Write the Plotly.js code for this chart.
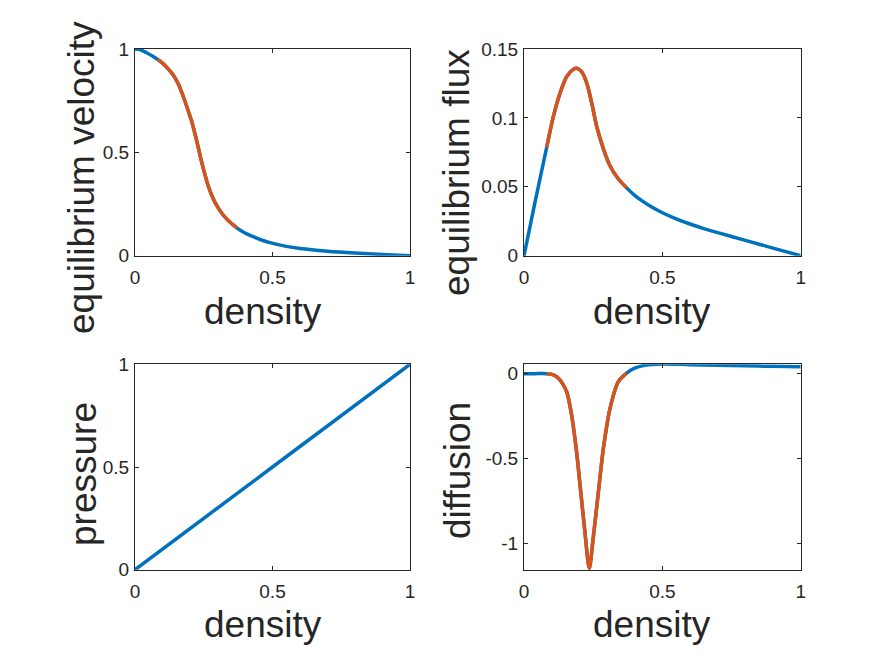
<!DOCTYPE html>
<html>
<head>
<meta charset="utf-8">
<script src="https://cdn.plot.ly/plotly-3.0.1.min.js"></script>
<style>
html, body { margin: 0; padding: 0; background: #ffffff; }
#chart { width: 884px; height: 663px; }
</style>
</head>
<body>
<div id="chart"></div>
<script>
// ---------------- data ----------------
const densityVelocity = [0, 0.02, 0.042, 0.065, 0.082, 0.10, 0.12, 0.139, 0.158, 0.176, 0.19, 0.206, 0.224, 0.242, 0.267, 0.287, 0.303, 0.32, 0.339, 0.37, 0.40, 0.43, 0.46, 0.491, 0.55, 0.6, 0.7, 0.8, 0.9, 1.0];
const velocity        = [1, 0.996, 0.982, 0.965, 0.95, 0.932, 0.905, 0.874, 0.83, 0.769, 0.715, 0.65, 0.558, 0.455, 0.335, 0.268, 0.230, 0.198, 0.170, 0.135, 0.11, 0.092, 0.076, 0.063, 0.045, 0.035, 0.022, 0.013, 0.006, 0];

const densityFlux = [0, 0.041, 0.082, 0.106, 0.13, 0.154, 0.178, 0.19, 0.208, 0.227, 0.245, 0.263, 0.287, 0.31, 0.34, 0.37, 0.40, 0.431, 0.46, 0.5, 0.55, 0.6, 0.65, 0.7, 0.8, 0.9, 1.0];
const flux        = [0, 0.040, 0.0786, 0.1009, 0.1178, 0.1299, 0.1352, 0.136, 0.1335, 0.1251, 0.1106, 0.0936, 0.0775, 0.0655, 0.0560, 0.0494, 0.0438, 0.0392, 0.0355, 0.0312, 0.0268, 0.0230, 0.0197, 0.0167, 0.0111, 0.0055, 0];

const densityPressure = [0, 0.5, 1];
const pressure        = [0, 0.5, 1];

const densityDiffusion = [0, 0.04, 0.082, 0.10, 0.12, 0.14, 0.155, 0.172, 0.19, 0.205, 0.22, 0.236, 0.25, 0.269, 0.287, 0.311, 0.341, 0.37, 0.40, 0.44, 0.5, 0.6, 0.7, 0.8, 0.9, 1.0];
const diffusion        = [0, 0, 0, -0.004, -0.02, -0.06, -0.11, -0.243, -0.459, -0.694, -0.929, -1.145, -0.968, -0.694, -0.439, -0.204, -0.047, 0.002, 0.032, 0.05, 0.057, 0.053, 0.049, 0.046, 0.043, 0.041];

// highlighted density interval (drawn in orange)
const highlightRange = [0.082, 0.37];

const xTickVals = [0, 0.5, 1];
const xTickText = ['0', '0.5', '1'];
const yTickVals1 = [0, 0.5, 1];
const yTickText1 = ['0', '0.5', '1'];
const yTickVals2 = [0, 0.05, 0.1, 0.15];
const yTickText2 = ['0', '0.05', '0.1', '0.15'];
const yTickVals3 = [0, 0.5, 1];
const yTickText3 = ['0', '0.5', '1'];
const yTickVals4 = [-1, -0.5, 0];
const yTickText4 = ['-1', '-0.5', '0'];

const xTitle = 'density';
const yTitles = ['equilibrium velocity', 'equilibrium flux', 'pressure', 'diffusion'];

// ---------------- styling / layout ----------------
const W = 884, H = 663;
const BLUE = '#0072BD', ORANGE = '#D95319', INK = '#262626';
const FONT = 'Liberation Sans, Arial, Helvetica, sans-serif';
const px = v => v / W;
const py = v => 1 - v / H;

function highlight(xs, ys) {
  const hx = [], hy = [];
  xs.forEach((x, i) => {
    if (x >= highlightRange[0] - 1e-9 && x <= highlightRange[1] + 1e-9) { hx.push(x); hy.push(ys[i]); }
  });
  return { hx, hy };
}

function pair(xs, ys, xa, ya, withHighlight) {
  const out = [{
    x: xs, y: ys, xaxis: xa, yaxis: ya, type: 'scatter', mode: 'lines',
    line: { color: BLUE, width: 3.5, shape: 'spline', smoothing: 0.8 }, hoverinfo: 'skip', showlegend: false
  }];
  if (withHighlight) {
    const h = highlight(xs, ys);
    out.push({
      x: h.hx, y: h.hy, xaxis: xa, yaxis: ya, type: 'scatter', mode: 'lines',
      line: { color: ORANGE, width: 3.5, shape: 'spline', smoothing: 0.8 }, hoverinfo: 'skip', showlegend: false
    });
  }
  return out;
}

const traces = [].concat(
  pair(densityVelocity, velocity, 'x', 'y', true),
  pair(densityFlux, flux, 'x2', 'y2', true),
  pair(densityPressure, pressure, 'x3', 'y3', false),
  pair(densityDiffusion, diffusion, 'x4', 'y4', true)
);

const base = {
  showline: true, linecolor: INK, linewidth: 1, mirror: 'ticks',
  ticks: 'inside', ticklen: 4, tickwidth: 1, tickcolor: INK,
  showgrid: false, zeroline: false, fixedrange: true,
  tickfont: { family: FONT, size: 19, color: INK }
};

const domLeft = [px(135), px(410)];
const domRight = [px(524), px(800.7)];
const domTop = [py(255.7), py(49)];
const domBottom = [py(569.7), py(364.3)];

function xa(domain, anchor) {
  return Object.assign({}, base, { domain, anchor, range: [0, 1], tickmode: 'array', tickvals: xTickVals, ticktext: xTickText, ticklabelstandoff: 4 });
}
function ya(domain, anchor, range, vals, text) {
  return Object.assign({}, base, { domain, anchor, range, tickmode: 'array', tickvals: vals, ticktext: text, ticklabelstandoff: 1 });
}

const titleFont = { family: FONT, size: 37, color: INK };
function ann(text, x, y, angle) {
  return { text, x: px(x), y: py(y), xref: 'paper', yref: 'paper', showarrow: false,
           xanchor: 'center', yanchor: 'middle', textangle: angle, font: titleFont };
}

const layout = {
  width: W, height: H,
  margin: { l: 0, r: 0, t: 0, b: 0 },
  paper_bgcolor: '#ffffff', plot_bgcolor: '#ffffff',
  showlegend: false,
  xaxis:  xa(domLeft, 'y'),
  yaxis:  ya(domTop, 'x', [0, 1], yTickVals1, yTickText1),
  xaxis2: xa(domRight, 'y2'),
  yaxis2: ya(domTop, 'x2', [0, 0.15], yTickVals2, yTickText2),
  xaxis3: xa(domLeft, 'y3'),
  yaxis3: ya(domBottom, 'x3', [0, 1], yTickVals3, yTickText3),
  xaxis4: xa(domRight, 'y4'),
  yaxis4: ya(domBottom, 'x4', [-1.153, 0.055], yTickVals4, yTickText4),
  annotations: [
    ann(xTitle, 263, 311, 0),
    ann(xTitle, 652, 311, 0),
    ann(xTitle, 263, 624, 0),
    ann(xTitle, 652, 624, 0),
    ann(yTitles[0], 82, 178, -90),
    ann(yTitles[1], 457, 173, -90),
    ann(yTitles[2], 83, 474, -90),
    ann(yTitles[3], 457, 471, -90)
  ]
};

Plotly.newPlot('chart', traces, layout, { displayModeBar: false, staticPlot: true });
</script>
</body>
</html>
